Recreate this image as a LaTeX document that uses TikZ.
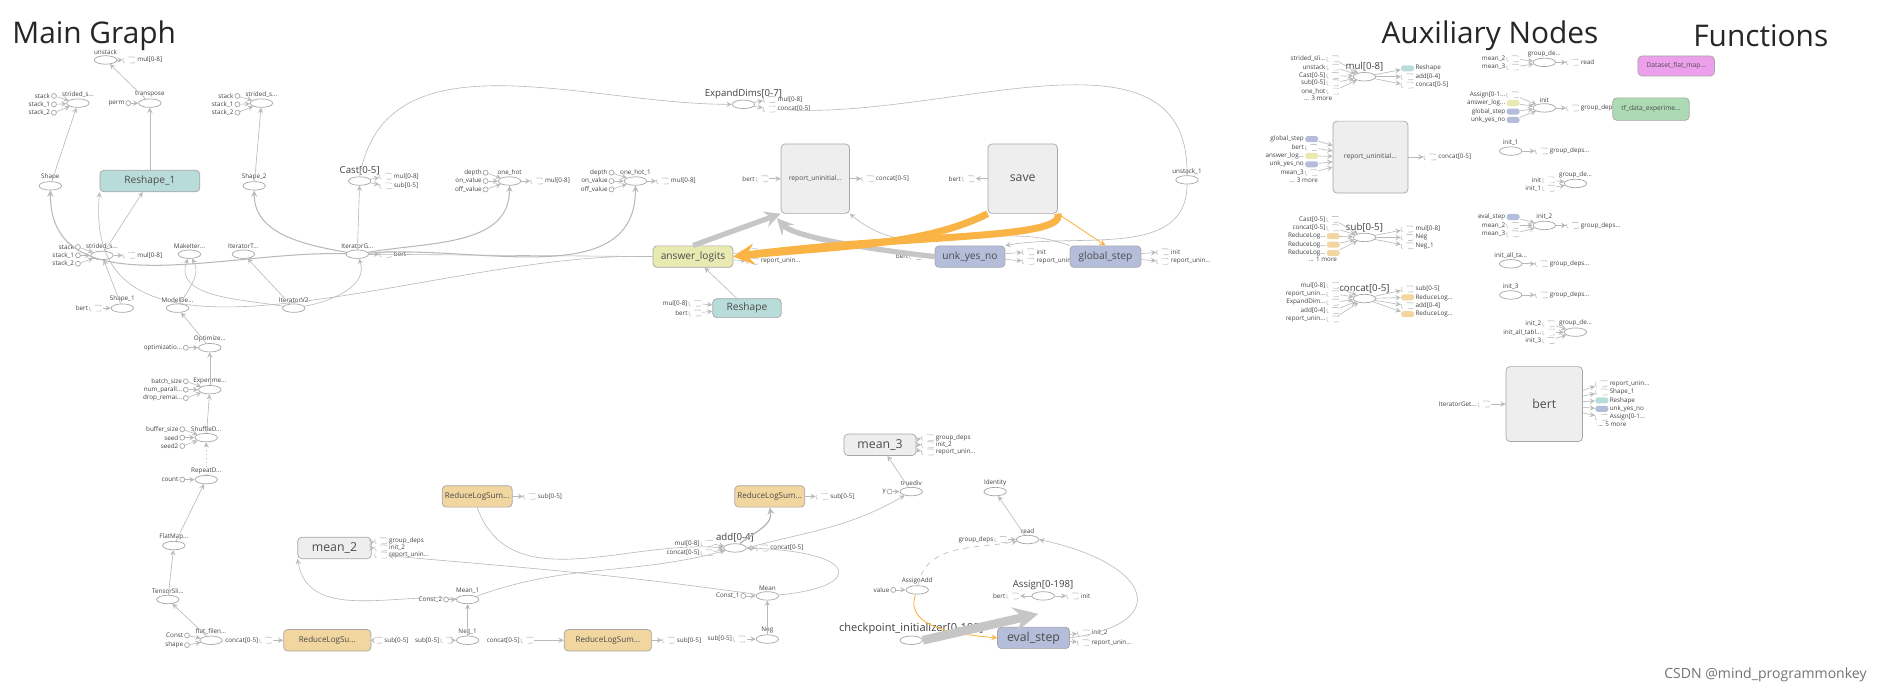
\documentclass[tikz,border=0pt]{standalone}
\usepackage{fontspec}
\setmainfont{Open Sans}
\usetikzlibrary{positioning,shapes.geometric}
\definecolor{tbgray}{RGB}{238,238,238}
\definecolor{tbteal}{RGB}{184,220,218}
\definecolor{tbyellow}{RGB}{232,234,178}
\definecolor{tbblue}{RGB}{180,190,218}
\definecolor{tborange}{RGB}{241,214,160}
\definecolor{tbgreen}{RGB}{172,218,178}
\definecolor{tbpink}{RGB}{236,160,236}
\definecolor{tbedge}{RGB}{250,180,70}
\tikzset{
  op/.style={ellipse, draw=gray!70, fill=white, minimum width=0.45cm, minimum height=0.17cm, inner sep=0pt},
  cst/.style={circle, draw=gray!70, fill=white, minimum size=0.1cm, inner sep=0pt},
  ref/.style={rounded corners=0.05cm, draw=gray!45, dashed, fill=white, minimum width=0.26cm, minimum height=0.12cm, inner sep=0pt},
  lbl/.style={font=\fontsize{3.6}{4}\selectfont, text=black!75, inner sep=0.4pt},
  mid/.style={font=\fontsize{5.5}{6}\selectfont, text=black!75, inner sep=0.4pt},
  title/.style={font=\fontsize{17}{20}\selectfont, text=black!85, inner sep=0pt},
  box/.style={rounded corners=0.08cm, draw=gray!70, minimum height=0.43cm, inner sep=1pt, font=\fontsize{5.8}{7}\selectfont, text=black!70},
  e/.style={draw=gray!55, line width=0.35pt, ->, >=stealth},
  ethick/.style={draw=gray!45, line width=3pt, ->, >=stealth},
  eor/.style={draw=tbedge, line width=4pt, ->, >=stealth},
}
\newcommand{\opn}[3]{\node[op] (#1) at (#2) {}; \node[lbl, above=0pt of #1] (#1l) {#3};}
\newcommand{\cin}[3]{\node[cst] (#1) at (#2) {}; \node[lbl, left=0pt of #1] (#1l) {#3};}
\newcommand{\rout}[3]{\node[ref] (#1) at (#2) {}; \node[lbl, right=0pt of #1] (#1l) {#3};}
\newcommand{\rin}[3]{\node[ref] (#1) at (#2) {}; \node[lbl, left=0pt of #1] (#1l) {#3};}
\begin{document}
\begin{tikzpicture}[x=0.024cm, y=-0.024cm]
\useasboundingbox (0,0) rectangle (1568,582);
% titles
\node[title, anchor=west] (tmain) at (10,30) {Main Graph};
\node[title, anchor=west] (taux) at (1152,30) {Auxiliary Nodes};
\node[title, anchor=west] (tfun) at (1412,30) {Functions};
\node[font=\fontsize{8}{9}\selectfont, text=black!55, anchor=east] (wm) at (1562,563) {CSDN @mind\_programmonkey};

% ---- main graph, left part
\opn{unstack}{88,50}{unstack}
\rout{unstacko}{108,50}{mul[0-8]}
\opn{slA}{65,86}{strided\_s...}
\cin{slAa}{45,80}{stack} \cin{slAb}{45,87}{stack\_1} \cin{slAc}{45,94}{stack\_2}
\opn{transpose}{125,86}{transpose}
\cin{perm}{107,86}{perm}
\opn{slB}{218,86}{strided\_s...}
\cin{slBa}{198,80}{stack} \cin{slBb}{198,87}{stack\_1} \cin{slBc}{198,94}{stack\_2}
\opn{shape}{42,155}{Shape}
\node[box, fill=tbteal, minimum width=2cm] (reshapeA) at (125,151) {Reshape\_1};
\opn{shapeB}{212,155}{Shape\_2}
\node[op] (cast) at (300,151) {}; \node[mid, above=0pt of cast] (castl) {Cast[0-5]};
\rout{casto}{322,147}{mul[0-8]} \rout{castp}{322,155}{sub[0-5]}
\opn{onehot}{425,151}{one\_hot}
\cin{ohA}{405,144}{depth} \cin{ohB}{405,151}{on\_value} \cin{ohC}{405,158}{off\_value}
\rout{oho}{448,151}{mul[0-8]}
\opn{onehotB}{530,151}{one\_hot\_1}
\cin{ohD}{510,144}{depth} \cin{ohE}{510,151}{on\_value} \cin{ohF}{510,158}{off\_value}
\rout{ohBo}{553,151}{mul[0-8]}
\opn{iterg}{298,212}{IteratorG...}
\rout{itergo}{322,212}{bert}
\opn{slC}{85,213}{strided\_s...}
\cin{slCa}{65,206}{stack} \cin{slCb}{65,213}{stack\_1} \cin{slCc}{65,220}{stack\_2}
\rout{slCo}{108,213}{mul[0-8]}
\opn{makeit}{158,212}{MakeIter...}
\opn{itert}{203,212}{IteratorT...}
\opn{shapeC}{102,257}{Shape\_1}
\rin{shapeCi}{80,257}{bert}
\opn{modelde}{148,257}{ModelDe...}
\opn{iterv}{245,257}{IteratorV2}
\opn{optim}{175,290}{Optimize...}
\cin{optimi}{155,290}{optimizatio...}
\opn{exper}{175,325}{Experime...}
\cin{experA}{155,318}{batch\_size} \cin{experB}{155,325}{num\_parall...} \cin{experC}{155,332}{drop\_remai...}
\opn{shuf}{172,365}{ShuffleD...}
\cin{shufA}{152,358}{buffer\_size} \cin{shufB}{152,365}{seed} \cin{shufC}{152,372}{seed2}
\opn{repeat}{172,400}{RepeatD...}
\cin{repeati}{152,400}{count}
\opn{flatmap}{145,455}{FlatMap...}
\opn{tensl}{140,500}{TensorSli...}
\opn{flatf}{176,534}{flat\_filen...}
\cin{flatfA}{156,530}{Const} \cin{flatfB}{156,538}{shape}
\rin{flatfo}{222,534}{concat[0-5]}
\node[box, fill=tborange, minimum width=1.75cm, font=\fontsize{4.6}{5}\selectfont] (rlsA) at (273,534) {ReduceLogSu...};
\rout{rlsAo}{314,534}{sub[0-5]}

\draw[e] (unstack) -- (unstacko);
\draw[e] (transpose) -- (unstack);
\draw[e] (perm) -- (transpose);
\foreach \n in {a,b,c} {
  \draw[e] (slA\n) -- (slA);
  \draw[e] (slB\n) -- (slB);
  \draw[e] (slC\n) -- (slC);
}
\foreach \n in {A,B,C} \draw[e] (oh\n) -- (onehot);
\foreach \n in {D,E,F} \draw[e] (oh\n) -- (onehotB);
\draw[e] (shape) -- (slA);
\draw[e] (reshapeA) -- (transpose);
\draw[e] (shapeB) -- (slB);
\draw[e] (cast) -- (casto); \draw[e] (cast) -- (castp);
\draw[e] (onehot) -- (oho); \draw[e] (onehotB) -- (ohBo);
\draw[e] (iterg) -- (itergo);
\draw[e] (iterg) -- (cast);
\draw[e, line width=0.6pt] (iterg) to[out=178, in=-90] (shape);
\draw[e, line width=0.6pt] (iterg) to[out=170, in=-90] (shapeB);
\draw[e, line width=0.6pt] (iterg) to[out=10, in=-90] (onehot);
\draw[e, line width=0.6pt] (iterg) to[out=5, in=-90] (onehotB);
\draw[e] (slC) -- (slCo);
\draw[e] (slC) -- (reshapeA);
\draw[e] (shapeCi) -- (shapeC);
\draw[e] (shapeC) -- (slC);
\draw[e] (iterv) to[out=170, in=-110] (makeit);
\draw[e] (modelde) to[out=60, in=-60] (makeit);
\draw[e] (iterv) -- (itert);
\draw[e] (iterv) to[out=10, in=-70] (iterg);
\draw[e] (optim) -- (modelde);
\draw[e] (optimi) -- (optim);
\draw[e] (exper) -- (optim);
\foreach \n in {A,B,C} {
  \draw[e] (exper\n) -- (exper);
  \draw[e] (shuf\n) -- (shuf);
}
\draw[e] (shuf) -- (exper);
\draw[e, dotted] (repeat) -- (shuf);
\draw[e] (repeati) -- (repeat);
\draw[e] (flatmap) -- (repeat);
\draw[e] (tensl) -- (flatmap);
\draw[e] (flatf) -- (tensl);
\draw[e] (flatfA) -- (flatf); \draw[e] (flatfB) -- (flatf);
\draw[e] (flatfo) -- (rlsA);
\draw[e] (rlsA) -- (rlsAo);

% ---- main graph, middle part
\node[op] (expd) at (620,87) {}; \node[mid, above=0pt of expd] (expdl) {ExpandDims[0-7]};
\rout{expdo}{642,83}{mul[0-8]} \rout{expdp}{642,91}{concat[0-5]}
\node[box, fill=tbgray, minimum width=1.37cm, minimum height=1.39cm, font=\fontsize{3.8}{4}\selectfont] (rep) at (680,149) {report\_uninitial...};
\rin{repi}{636,149}{bert}
\rout{repo}{724,149}{concat[0-5]}
\node[box, fill=tbgray, minimum width=1.39cm, minimum height=1.39cm, font=\fontsize{7}{8}\selectfont] (save) at (853,149) {save};
\rin{savei}{808,149}{bert}
\opn{unstB}{990,150}{unstack\_1}
\node[box, fill=tbyellow, minimum width=1.6cm] (ans) at (578,214) {answer\_logits};
\rout{ansA}{628,210}{init} \rout{ansB}{628,218}{report\_unin...}
\node[box, fill=tbteal, minimum width=1.37cm, minimum height=0.38cm] (resh) at (623,257) {Reshape};
\rin{reshA}{580,253}{mul[0-8]} \rin{reshB}{580,261}{bert}
\node[box, fill=tbblue, minimum width=1.4cm] (unk) at (809,214) {unk\_yes\_no};
\rin{unki}{764,214}{bert}
\rout{unkA}{858,210}{init} \rout{unkB}{858,218}{report\_unin...}
\node[box, fill=tbblue, minimum width=1.42cm] (gstep) at (922,214) {global\_step};
\rout{gstepA}{970,210}{init} \rout{gstepB}{970,218}{report\_unin...}

\draw[e] (cast.north) to[out=80, in=180] (expd);
\draw[e] (expd) -- (expdo); \draw[e] (expd) -- (expdp);
\draw[e] (expdp.east) to[out=-5, in=90] (unstB);
\draw[e] (unstB) to[out=-90, in=10] (unk.north east);
\draw[e] (repi) -- (rep); \draw[e] (rep) -- (repo);
\draw[e] (save) -- (savei);
\draw[e] (resh) -- (ans);
\foreach \n in {A,B} {
  \draw[e] (resh\n) -- (resh);
  \draw[e] (ans) -- (ans\n);
  \draw[e] (unk) -- (unk\n);
  \draw[e] (gstep) -- (gstep\n);
}
\draw[e] (unki) -- (unk);
\draw[e] (ans.west) to[out=178, in=-95] (reshapeA.south west);
\draw[draw=gray!55, line width=0.35pt] (iterg.east) -- (ans.west);
\draw[e] (gstep.north west) to[out=160, in=-40] (rep.south east);
\draw[ethick] (ans.north) -- (rep.south west);
\draw[ethick] (unk.west) .. controls (700,205) and (660,195) .. (648,182);
\draw[eor] (save.south west) .. controls (770,205) and (700,205) .. (ans.east);
\draw[eor] (save.south east) .. controls (890,200) and (760,195) .. (ans.east);
\draw[draw=tbedge, line width=0.5pt, ->, >=stealth] (save.south east) -- (gstep.north);

% ---- main graph, bottom part
\node[box, fill=tbgray, minimum width=1.47cm, font=\fontsize{7}{8}\selectfont] (meanB) at (279,457) {mean\_2};
\rout{meanBa}{318,451}{group\_deps} \rout{meanBb}{318,457}{init\_2} \rout{meanBc}{318,463}{report\_unin...}
\opn{meanA}{390,500}{Mean\_1}
\cin{meanAi}{372,500}{Const\_2}
\opn{negA}{390,534}{Neg\_1}
\rin{negAi}{373,534}{sub[0-5]}
\rin{negAo}{440,534}{concat[0-5]}
\node[box, fill=tborange, minimum width=1.75cm, font=\fontsize{4.6}{5}\selectfont] (rlsB) at (507,534) {ReduceLogSum...};
\rout{rlsBo}{558,534}{sub[0-5]}
\node[box, fill=tborange, minimum width=1.4cm, font=\fontsize{4.6}{5}\selectfont] (rlsC) at (398,414) {ReduceLogSum...};
\rout{rlsCo}{442,414}{sub[0-5]}
\node[box, fill=tborange, minimum width=1.4cm, font=\fontsize{4.6}{5}\selectfont] (rlsD) at (642,414) {ReduceLogSum...};
\rout{rlsDo}{686,414}{sub[0-5]}
\node[op] (add) at (613,457) {}; \node[mid, above=0pt of add] (addl) {add[0-4]};
\rin{addA}{590,453}{mul[0-8]} \rin{addB}{590,461}{concat[0-5]}
\rout{addo}{636,457}{concat[0-5]}
\opn{mean}{640,497}{Mean}
\cin{meani}{620,497}{Const\_1}
\opn{neg}{640,533}{Neg}
\rin{negi}{617,533}{sub[0-5]}
\node[box, fill=tbgray, minimum width=1.44cm, font=\fontsize{7}{8}\selectfont] (meanC) at (734,371) {mean\_3};
\rout{meanCa}{774,365}{group\_deps} \rout{meanCb}{774,371}{init\_2} \rout{meanCc}{774,377}{report\_unin...}
\opn{truediv}{760,410}{truediv}
\cin{truedivi}{742,410}{y}
\opn{ident}{830,410}{Identity}
\opn{read}{857,450}{read}
\rin{readi}{835,450}{group\_deps}
\opn{assignadd}{765,492}{AssignAdd}
\cin{assignaddi}{745,492}{value}
\node[op] (assign) at (870,497) {}; \node[mid, above=0pt of assign] (assignl) {Assign[0-198]};
\rin{assigni}{845,497}{bert} \rout{assigno}{895,497}{init}
\node[op] (ckpt) at (760,534) {}; \node[font=\fontsize{6.3}{7}\selectfont, text=black!75, inner sep=0.4pt, above=0pt of ckpt] (ckptl) {checkpoint\_initializer[0-198]};
\node[box, fill=tbblue, minimum width=1.44cm, font=\fontsize{7}{8}\selectfont] (evalstep) at (862,532) {eval\_step};
\rout{evalA}{904,528}{init\_2} \rout{evalB}{904,536}{report\_unin...}

\draw[e] (meanAi) -- (meanA);
\draw[e] (negAi) -- (negA);
\draw[e] (negA) -- (meanA);
\draw[e] (negAo) -- (rlsB); \draw[e] (rlsB) -- (rlsBo);
\draw[e] (rlsC) -- (rlsCo); \draw[e] (rlsD) -- (rlsDo);
\draw[e] (meanA) to[out=175, in=-80] (meanB.south west);
\draw[e] (mean) to[out=172, in=-5] (meanBc);
\foreach \n in {a,b} \draw[e] (meanB) -- (meanB\n);
\draw[e] (meanA) to[out=20, in=-165] (add);
\draw[e] (mean) .. controls (720,490) and (720,460) .. (add.east);
\draw[e] (rlsC.south) to[out=-70, in=175] (add.west);
\draw[e, line width=0.8pt] (add) to[out=40, in=-80] (rlsD.south);
\draw[e] (addA) -- (add); \draw[e] (addB) -- (add);
\draw[e] (add) -- (addo);
\draw[e] (add.east) to[out=15, in=-150] (truediv);
\draw[e] (meani) -- (mean);
\draw[e] (negi) -- (neg);
\draw[e] (neg) -- (mean);
\draw[e] (truedivi) -- (truediv);
\draw[e] (truediv) -- (meanC);
\foreach \n in {a,b,c} \draw[e] (meanC) -- (meanC\n);
\draw[e] (read) -- (ident);
\draw[e, dashed] (readi) -- (read);
\draw[e, dashed] (assignadd) to[out=80, in=190] (read);
\draw[e] (evalstep.east) .. controls (980,520) and (960,470) .. (read.east);
\draw[e] (assignaddi) -- (assignadd);
\draw[draw=tbedge, line width=0.5pt, ->, >=stealth] (assignadd) to[out=-110, in=175] (evalstep.west);
\draw[ethick, line width=5pt] (ckpt.east) -- (866,512);
\draw[e] (assign) -- (assigni); \draw[e] (assign) -- (assigno);
\draw[e] (evalstep) -- (evalA); \draw[e] (evalstep) -- (evalB);

% ---- auxiliary nodes, first column
\node[op] (mul) at (1138,64) {}; \node[mid, above=0pt of mul] (mull) {mul[0-8]};
\rin{mulA}{1112,49}{strided\_sli...} \rin{mulB}{1112,56}{unstack} \rin{mulC}{1112,63}{Cast[0-5]}
\rin{mulD}{1112,69}{sub[0-5]} \rin{mulE}{1112,76}{one\_hot}
\node[lbl, anchor=east] (mulF) at (1112,82) {... 3 more};
\node[ref, solid, fill=tbteal, draw=none] (mulo) at (1174,57) {}; \node[lbl, right=0pt of mulo] (mulol) {Reshape};
\rout{mulp}{1174,64}{add[0-4]} \rout{mulq}{1174,71}{concat[0-5]}
\foreach \n in {A,B,C,D,E} \draw[e] (mul\n) -- (mul);
\foreach \n in {o,p,q} \draw[e] (mul) -- (mul\n);

\node[box, fill=tbgray, minimum width=1.5cm, minimum height=1.44cm, font=\fontsize{3.8}{4}\selectfont] (repX) at (1143,131) {report\_uninitial...};
\node[ref, solid, fill=tbblue, draw=none] (repXa) at (1094,116) {}; \node[lbl, left=0pt of repXa] (repXal) {global\_step};
\rin{repXb}{1094,123}{bert}
\node[ref, solid, fill=tbyellow, draw=none] (repXc) at (1094,130) {}; \node[lbl, left=0pt of repXc] (repXcl) {answer\_log...};
\node[ref, solid, fill=tbblue, draw=none] (repXd) at (1094,137) {}; \node[lbl, left=0pt of repXd] (repXdl) {unk\_yes\_no};
\rin{repXe}{1094,144}{mean\_3}
\node[lbl, anchor=east] (repXf) at (1100,150) {... 3 more};
\rout{repXo}{1193,131}{concat[0-5]}
\foreach \n in {a,b,c,d,e} \draw[e] (repX\n) -- (repX);
\draw[e] (repX) -- (repXo);

\node[op] (sub) at (1138,198) {}; \node[mid, above=0pt of sub] (subl) {sub[0-5]};
\rin{subA}{1112,183}{Cast[0-5]} \rin{subB}{1112,190}{concat[0-5]}
\foreach \n/\y in {C/197,D/204,E/211} {
  \node[ref, solid, fill=tborange, draw=none] (sub\n) at (1112,\y) {};
  \node[lbl, left=0pt of sub\n] (sub\n l) {ReduceLog...};
}
\node[lbl, anchor=east] (subF) at (1116,216) {... 1 more};
\rout{subo}{1174,191}{mul[0-8]} \rout{subp}{1174,198}{Neg} \rout{subq}{1174,205}{Neg\_1}
\foreach \n in {A,B,C,D,E} \draw[e] (sub\n) -- (sub);
\foreach \n in {o,p,q} \draw[e] (sub) -- (sub\n);

\node[op] (concat) at (1138,249) {}; \node[mid, above=0pt of concat] (concatl) {concat[0-5]};
\rin{concatA}{1112,238}{mul[0-8]} \rin{concatB}{1112,245}{report\_unin...} \rin{concatC}{1112,252}{ExpandDim...}
\rin{concatD}{1112,259}{add[0-4]} \rin{concatE}{1112,266}{report\_unin...}
\rout{concato}{1174,241}{sub[0-5]}
\node[ref, solid, fill=tborange, draw=none] (concatp) at (1174,248) {}; \node[lbl, right=0pt of concatp] (concatpl) {ReduceLog...};
\rout{concatq}{1174,255}{add[0-4]}
\node[ref, solid, fill=tborange, draw=none] (concatr) at (1174,262) {}; \node[lbl, right=0pt of concatr] (concatrl) {ReduceLog...};
\foreach \n in {A,B,C,D,E} \draw[e] (concat\n) -- (concat);
\foreach \n in {o,p,q,r} \draw[e] (concat) -- (concat\n);

% ---- auxiliary nodes, second column
\opn{gdA}{1288,52}{group\_de...}
\rin{gdAa}{1262,49}{mean\_2} \rin{gdAb}{1262,56}{mean\_3}
\rout{gdAo}{1312,52}{read}
\draw[e] (gdAa) -- (gdA); \draw[e] (gdAb) -- (gdA); \draw[e] (gdA) -- (gdAo);
\opn{init}{1288,90}{init}
\rin{initA}{1262,79}{Assign[0-1...}
\node[ref, solid, fill=tbyellow, draw=none] (initB) at (1262,86) {}; \node[lbl, left=0pt of initB] (initBl) {answer\_log...};
\node[ref, solid, fill=tbblue, draw=none] (initC) at (1262,93) {}; \node[lbl, left=0pt of initC] (initCl) {global\_step};
\node[ref, solid, fill=tbblue, draw=none] (initD) at (1262,100) {}; \node[lbl, left=0pt of initD] (initDl) {unk\_yes\_no};
\rout{inito}{1312,90}{group\_deps}
\foreach \n in {A,B,C,D} \draw[e] (init\n) -- (init);
\draw[e] (init) -- (inito);
\opn{initB1}{1260,126}{init\_1}
\rout{initB1o}{1286,126}{group\_deps...}
\draw[e] (initB1) -- (initB1o);
\opn{gdB}{1314,153}{group\_de...}
\rin{gdBa}{1292,150}{init} \rin{gdBb}{1292,157}{init\_1}
\draw[e] (gdBa) -- (gdB); \draw[e] (gdBb) -- (gdB);
\opn{initC2}{1288,188}{init\_2}
\node[ref, solid, fill=tbblue, draw=none] (initC2a) at (1262,181) {}; \node[lbl, left=0pt of initC2a] (initC2al) {eval\_step};
\rin{initC2b}{1262,188}{mean\_2} \rin{initC2c}{1262,195}{mean\_3}
\rout{initC2o}{1312,188}{group\_deps...}
\foreach \n in {a,b,c} \draw[e] (initC2\n) -- (initC2);
\draw[e] (initC2) -- (initC2o);
\opn{initall}{1260,220}{init\_all\_ta...}
\rout{initallo}{1286,220}{group\_deps...}
\draw[e] (initall) -- (initallo);
\opn{initD3}{1260,246}{init\_3}
\rout{initD3o}{1286,246}{group\_deps...}
\draw[e] (initD3) -- (initD3o);
\opn{gdC}{1314,277}{group\_de...}
\rin{gdCa}{1292,270}{init\_2} \rin{gdCb}{1292,277}{init\_all\_tabl...} \rin{gdCc}{1292,284}{init\_3}
\foreach \n in {a,b,c} \draw[e] (gdC\n) -- (gdC);
\node[box, fill=tbgray, minimum width=1.53cm, minimum height=1.5cm, font=\fontsize{7}{8}\selectfont] (bert) at (1288,337) {bert};
\rin{berti}{1238,337}{IteratorGet...}
\rout{bertA}{1336,320}{report\_unin...} \rout{bertB}{1336,327}{Shape\_1}
\node[ref, solid, fill=tbteal, draw=none] (bertC) at (1336,334) {}; \node[lbl, right=0pt of bertC] (bertCl) {Reshape};
\node[ref, solid, fill=tbblue, draw=none] (bertD) at (1336,341) {}; \node[lbl, right=0pt of bertD] (bertDl) {unk\_yes\_no};
\rout{bertE}{1336,348}{Assign[0-1...}
\node[lbl, anchor=west] (bertF) at (1332,354) {... 5 more};
\draw[e] (berti) -- (bert);
\foreach \n in {A,B,C,D,E} \draw[e] (bert) -- (bert\n);

% ---- functions
\node[box, fill=tbgreen, minimum width=1.53cm, minimum height=0.45cm, font=\fontsize{3.8}{4}\selectfont] (tfdata) at (1377,91) {tf\_data\_experime...};
\node[box, fill=tbpink, minimum width=1.53cm, minimum height=0.4cm, font=\fontsize{3.8}{4}\selectfont] (dataset) at (1398,55) {Dataset\_flat\_map...};
\end{tikzpicture}
\end{document}
